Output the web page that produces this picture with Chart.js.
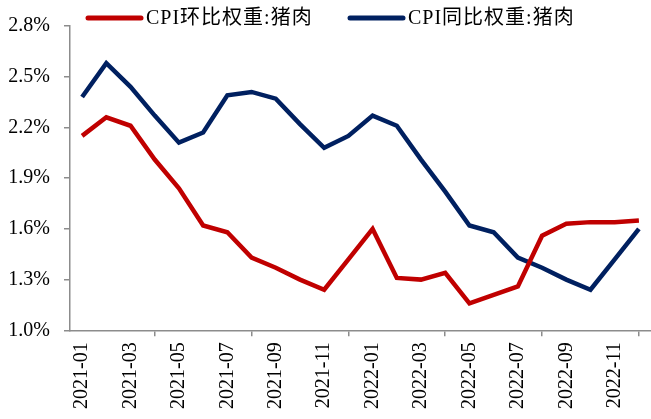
<!DOCTYPE html>
<html>
<head>
<meta charset="utf-8">
<script src="https://cdn.jsdelivr.net/npm/chart.js@4/dist/chart.umd.min.js"></script>
<style>
  body { margin: 0; background: #fff; }
  #wrap { width: 651px; height: 419px; }
</style>
</head>
<body>
<div id="wrap"><canvas id="pork_chart" width="651" height="419"></canvas></div>
<script>
const months = ['2021-01', '2021-02', '2021-03', '2021-04', '2021-05', '2021-06', '2021-07', '2021-08', '2021-09', '2021-10', '2021-11', '2021-12',
    '2022-01', '2022-02', '2022-03', '2022-04', '2022-05', '2022-06', '2022-07', '2022-08', '2022-09', '2022-10', '2022-11', '2022-12']
// CPI环比权重:猪肉 (%)
const mom_weight = [2.15, 2.26, 2.21, 2.01, 1.84, 1.62, 1.58, 1.43, 1.37, 1.30, 1.24, 1.42,
    1.60, 1.31, 1.30, 1.34, 1.16, 1.21, 1.26, 1.56, 1.63, 1.64, 1.64, 1.65]
// CPI同比权重:猪肉 (%)
const yoy_weight = [2.38, 2.58, 2.44, 2.27, 2.11, 2.17, 2.39, 2.41, 2.37, 2.22, 2.08, 2.15,
    2.27, 2.21, 2.01, 1.82, 1.62, 1.58, 1.43, 1.37, 1.30, 1.24, 1.42, 1.60]
const y_min = 1.0
const y_max = 2.8
const y_step = 0.3

const RED = '#C00000'
const NAVY = '#002060'
const AXIS = '#8c8c8c'
const FONT = '"Liberation Serif", "Times New Roman", "Noto Sans CJK SC", serif'

// legend drawn at the top, over the plot's top margin
const topLegend = {
    id: 'topLegend',
    afterDraw(chart) {
        const ctx = chart.ctx
        const starts = [88, 350]
        ctx.save()
        ctx.font = '20px ' + FONT
        ctx.letterSpacing = '1px'
        ctx.textBaseline = 'middle'
        chart.data.datasets.forEach((ds, i) => {
            const x = starts[i]
            ctx.strokeStyle = ds.borderColor
            ctx.lineWidth = 5
            ctx.lineCap = 'round'
            ctx.beginPath()
            ctx.moveTo(x, 18)
            ctx.lineTo(x + 53, 18)
            ctx.stroke()
            ctx.fillStyle = '#000'
            ctx.fillText(ds.label, x + 58, 19)
        })
        ctx.restore()
    }
}

function porkChart() {
    new Chart(document.querySelector('#pork_chart'), {
        type: 'line',
        data: {
            labels: months,
            datasets: [{
                label: 'CPI环比权重:猪肉',
                data: mom_weight,
                borderColor: RED,
                backgroundColor: RED,
                borderWidth: 4.5,
                pointRadius: 0,
                fill: false,
                tension: 0
            }, {
                label: 'CPI同比权重:猪肉',
                data: yoy_weight,
                borderColor: NAVY,
                backgroundColor: NAVY,
                borderWidth: 4.5,
                pointRadius: 0,
                fill: false,
                tension: 0
            }]
        },
        options: {
            responsive: false,
            animation: false,
            devicePixelRatio: 1,
            layout: { padding: { left: 6, top: 26, right: 0, bottom: 4 } },
            plugins: {
                legend: { display: false },
                tooltip: { enabled: false }
            },
            scales: {
                x: {
                    offset: true,
                    grid: { offset: true, drawOnChartArea: false, drawTicks: true, tickLength: 6, color: AXIS, lineWidth: 1.5 },
                    border: { color: AXIS, width: 1.5 },
                    ticks: {
                        autoSkip: true,
                        maxTicksLimit: 12,
                        minRotation: 90,
                        maxRotation: 90,
                        padding: 6,
                        color: '#000',
                        font: { family: FONT, size: 20 }
                    }
                },
                y: {
                    min: y_min,
                    max: y_max,
                    afterFit(scale) { scale.width = 64 },
                    grid: { drawOnChartArea: false, drawTicks: true, tickLength: 6, color: AXIS, lineWidth: 1.5 },
                    border: { color: AXIS, width: 1.5 },
                    ticks: {
                        stepSize: y_step,
                        padding: 14,
                        color: '#000',
                        font: { family: FONT, size: 20 },
                        callback: v => v.toFixed(1) + '%'
                    }
                }
            }
        },
        plugins: [topLegend]
    })
}

porkChart()
</script>
</body>
</html>
